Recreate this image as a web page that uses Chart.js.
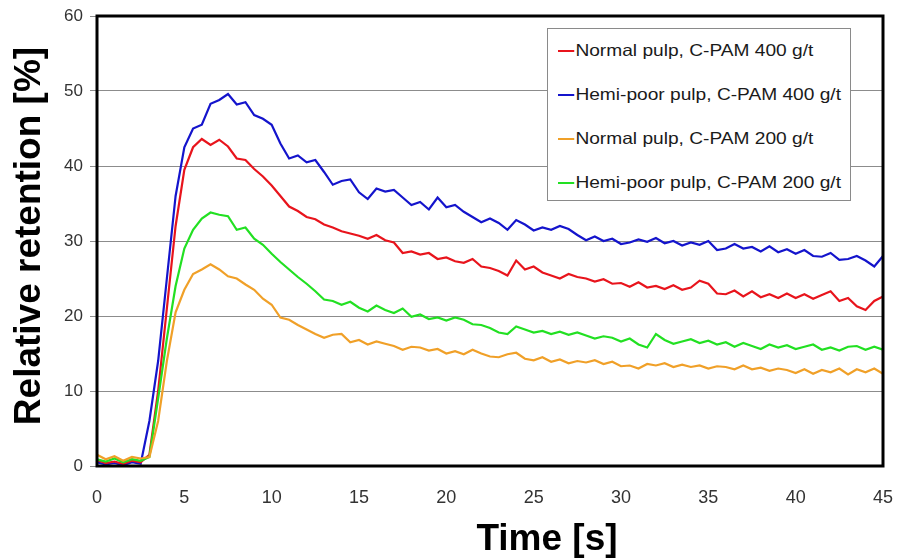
<!DOCTYPE html>
<html>
<head>
<meta charset="utf-8">
<script src="https://cdn.jsdelivr.net/npm/chart.js@4/dist/chart.umd.min.js"></script>
<style>
  html,body{margin:0;padding:0;background:#fff;}
  #wrap{position:relative;width:897px;height:560px;}
  #legend{position:absolute;left:547px;top:28px;width:304px;height:173px;border:1px solid #8a8a8a;background:#fff;box-sizing:border-box;
    font-family:"Liberation Sans",Arial,sans-serif;font-size:16.5px;color:#1a1a1a;}
  .row{position:absolute;left:10px;height:20px;line-height:20px;white-space:nowrap;transform:scaleX(1.16);transform-origin:0 50%;}
  .row i{display:inline-block;width:14px;height:2px;vertical-align:middle;margin-right:1px;position:relative;top:-1px;}
</style>
</head>
<body>
<div id="wrap">
  <canvas id="c" width="897" height="560"></canvas>
  <div id="legend"></div>
</div>
<script>
// time axis [s]
const timeS = [0,0.5,1,1.5,2,2.5,3,3.5,4,4.5,5,5.5,6,6.5,7,7.5,8,8.5,9,9.5,
  10,10.5,11,11.5,12,12.5,13,13.5,14,14.5,15,15.5,16,16.5,17,17.5,18,18.5,19,19.5,
  20,20.5,21,21.5,22,22.5,23,23.5,24,24.5,25,25.5,26,26.5,27,27.5,28,28.5,29,29.5,
  30,30.5,31,31.5,32,32.5,33,33.5,34,34.5,35,35.5,36,36.5,37,37.5,38,38.5,39,39.5,
  40,40.5,41,41.5,42,42.5,43,43.5,44,44.5,45];

// relative retention [%]
const normal400 = [0.8,0.4,0.6,0.3,0.7,0.5,1.5,10,21,32,
  39.5,42.5,43.6,42.8,43.5,42.6,41,40.8,39.6,38.6,
  37.4,36,34.6,34,33.2,32.9,32.2,31.8,31.3,31.0,
  30.7,30.3,30.8,30.1,29.8,28.4,28.6,28.2,28.4,27.6,
  27.8,27.3,27.1,27.6,26.6,26.4,26.0,25.4,27.4,26.2,
  26.6,25.8,25.4,25.0,25.6,25.2,25.0,24.6,24.9,24.3,
  24.4,23.9,24.5,23.8,24.0,23.6,24.1,23.5,23.8,24.7,
  24.3,23.0,22.9,23.4,22.6,23.3,22.5,22.9,22.4,23.0,
  22.4,22.9,22.3,22.8,23.3,22.0,22.4,21.3,20.8,22.0,22.6];

const hemi400 = [0.5,0.2,0.4,0.1,0.5,0.3,6,14,25,36,
  42.5,45,45.5,48.3,48.8,49.6,48.2,48.5,46.8,46.3,
  45.5,43,41,41.4,40.5,40.8,39.2,37.5,38,38.2,
  36.5,35.6,37,36.6,36.8,35.8,34.8,35.2,34.2,35.8,
  34.5,34.8,33.9,33.2,32.5,33,32.4,31.5,32.8,32.2,
  31.4,31.8,31.5,32.0,31.6,30.8,30.1,30.6,30.0,30.3,
  29.6,29.8,30.2,29.9,30.4,29.7,30.0,29.4,29.8,29.5,
  30.0,28.8,29.0,29.6,29.0,29.2,28.6,29.3,28.5,28.9,
  28.3,28.8,28.0,27.9,28.4,27.5,27.6,28.0,27.4,26.6,28.0];

const normal200 = [1.5,0.9,1.3,0.7,1.2,1.0,1.2,6,14,20.5,
  23.5,25.6,26.2,26.9,26.2,25.3,25.0,24.2,23.5,22.3,
  21.5,19.8,19.5,18.8,18.2,17.6,17.1,17.5,17.6,16.5,
  16.8,16.2,16.6,16.3,16.0,15.5,15.9,15.8,15.4,15.6,
  15.0,15.3,14.9,15.5,15.0,14.6,14.5,14.9,15.1,14.3,
  14.1,14.5,13.9,14.2,13.7,14.0,13.8,14.1,13.6,13.9,
  13.3,13.4,13.0,13.6,13.4,13.7,13.2,13.5,13.2,13.4,
  13.0,13.3,13.2,12.9,13.4,12.9,13.1,12.7,13.0,12.8,
  12.4,12.9,12.3,12.8,12.5,13.0,12.2,12.9,12.5,13.0,12.3];

const hemi200 = [0.9,0.6,1.0,0.5,0.9,0.7,1.2,9,17,24,
  29,31.5,33,33.8,33.5,33.3,31.5,31.8,30.3,29.5,
  28.3,27.2,26.2,25.2,24.3,23.3,22.2,22.0,21.5,21.9,
  21.1,20.6,21.4,20.8,20.4,21.0,19.9,20.2,19.6,19.8,
  19.4,19.8,19.5,18.9,18.8,18.4,17.8,17.6,18.6,18.2,
  17.8,18.0,17.6,17.9,17.5,17.8,17.4,17.0,17.3,17.1,
  16.6,17.0,16.2,15.8,17.6,16.8,16.3,16.6,16.9,16.4,
  16.7,16.2,16.5,15.9,16.4,16.0,15.6,16.2,15.8,16.1,
  15.6,15.9,16.2,15.5,15.8,15.4,15.9,16.0,15.5,15.9,15.5];

const seriesNames = ['Normal pulp, C-PAM 400 g/t','Hemi-poor pulp, C-PAM 400 g/t','Normal pulp, C-PAM 200 g/t','Hemi-poor pulp, C-PAM 200 g/t'];
const seriesColors = ['#e8141c','#1414cc','#f0a028','#22e022'];
const seriesData = [normal400, hemi400, normal200, hemi200];

const FONT = '"Liberation Sans", Arial, sans-serif';

// black frame round the plot + the two axis titles
const frame = {
  id:'frame',
  afterDatasetsDraw(chart){
    const {ctx, chartArea:a} = chart;
    ctx.save();
    ctx.strokeStyle = '#000';
    ctx.lineWidth = 3;
    ctx.strokeRect(a.left, a.top, a.right - a.left, a.bottom - a.top);
    ctx.fillStyle = '#000';
    ctx.font = 'bold 37px ' + FONT;
    ctx.textAlign = 'center';
    ctx.textBaseline = 'middle';
    ctx.fillText('Time [s]', 547, 540);
    ctx.translate(30, 236);
    ctx.rotate(-Math.PI/2);
    ctx.fillText('Relative retention [%]', 0, 0);
    ctx.restore();
  }
};

// draw order: orange, green, red, blue on top
const order = [2,3,0,1];
const datasets = order.map(i => ({
  label: seriesNames[i],
  data: timeS.map((t,k) => ({x:t, y:seriesData[i][k]})),
  borderColor: seriesColors[i],
  borderWidth: 2.2,
  pointRadius: 0,
  tension: 0,
  fill: false
}));

new Chart(document.getElementById('c'), {
  type:'line',
  data:{datasets},
  options:{
    responsive:false,
    animation:false,
    layout:{padding:{top:16, right:14, left:0, bottom:0}},
    plugins:{legend:{display:false}, tooltip:{enabled:false}},
    scales:{
      x:{
        type:'linear', min:0, max:45,
        ticks:{stepSize:5, color:'#333', padding:21, maxRotation:0, font:{family:FONT, size:18}},
        grid:{display:false, drawTicks:false},
        border:{display:false},
        afterFit(s){ s.height = 94; s.paddingLeft = 0; s.paddingRight = 0; }
      },
      y:{
        min:0, max:60,
        ticks:{stepSize:10, color:'#333', padding:7, font:{family:FONT, size:17}},
        grid:{color:'#8c8c8c', lineWidth:1, tickLength:7},
        border:{display:false},
        afterFit(s){ s.width = 97; s.paddingTop = 0; s.paddingBottom = 0; }
      }
    }
  },
  plugins:[frame]
});

document.getElementById('legend').innerHTML = seriesNames.map((n,i) =>
  `<div class="row" style="top:${11 + i*44}px"><i style="background:${seriesColors[i]}"></i>${n}</div>`).join('');
</script>
</body>
</html>
